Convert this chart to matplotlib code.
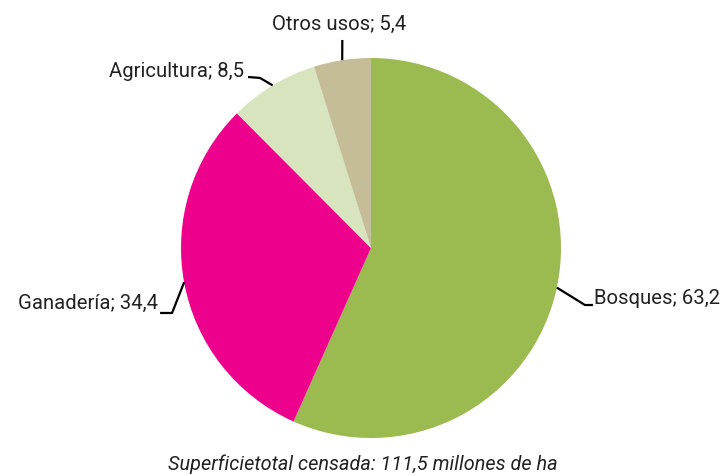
import numpy as np
import matplotlib
matplotlib.use("Agg")
import matplotlib.pyplot as plt

# data (millones de ha)
labels = ["Bosques", "Ganadería", "Agricultura", "Otros usos"]
values = [63.2, 34.4, 8.5, 5.4]
colors = ["#9BBB50", "#EC008C", "#D7E4BD", "#C4BD97"]
caption = "Superficietotal censada: 111,5 millones de ha"

plt.rcParams['font.family'] = ['Roboto', 'DejaVu Sans']

W, H = 727, 475
cx, cy, R = 371, 248, 190  # pie centre / radius in pixels

fig = plt.figure(figsize=(W / 100, H / 100), dpi=100)
ax = fig.add_axes([0, 0, 1, 1])

wedges, _ = ax.pie(values, colors=colors, startangle=90, counterclock=False,
                   radius=1.0, wedgeprops=dict(linewidth=0))

ax.set_aspect('auto')
ax.set_xlim(-cx / R, (W - cx) / R)
ax.set_ylim(-(H - cy) / R, cy / R)
ax.axis('off')

# leader layout per label: elbow, line end, text pos, alignment
layout = {
    "Bosques":     dict(elbow=(1.126, -0.300), end=(1.168, -0.300), text=(1.176, -0.266), ha='left'),
    "Ganadería":   dict(elbow=(-1.047, -0.342), end=(-1.110, -0.342), text=(-1.120, -0.290), ha='right'),
    "Agricultura": dict(elbow=(-0.584, 0.895), end=(-0.647, 0.900), text=(-0.668, 0.930), ha='right'),
    "Otros usos":  dict(elbow=None, end=(-0.151, 1.095), text=(-0.168, 1.176), ha='center'),
}

for w, lab, val in zip(wedges, labels, values):
    ang = np.deg2rad((w.theta1 + w.theta2) / 2)
    ex, ey = np.cos(ang), np.sin(ang)
    L = layout[lab]
    pts = [(ex, ey)]
    if L["elbow"] is not None:
        pts.append(L["elbow"])
    pts.append(L["end"])
    xs, ys = zip(*pts)
    ax.plot(xs, ys, color='black', lw=1.6, solid_capstyle='butt', clip_on=False)
    txt = f"{lab}; {val:.1f}".replace('.', ',')
    ax.text(L["text"][0], L["text"][1], txt, ha=L["ha"], va='center',
            fontsize=14.6, color='#222222')

fig.text(363 / W, 1 - 464 / H, caption, ha='center', va='center',
         fontsize=14.3, style='italic', color='#222222')

fig.savefig("out.png", dpi=100, facecolor='white')
